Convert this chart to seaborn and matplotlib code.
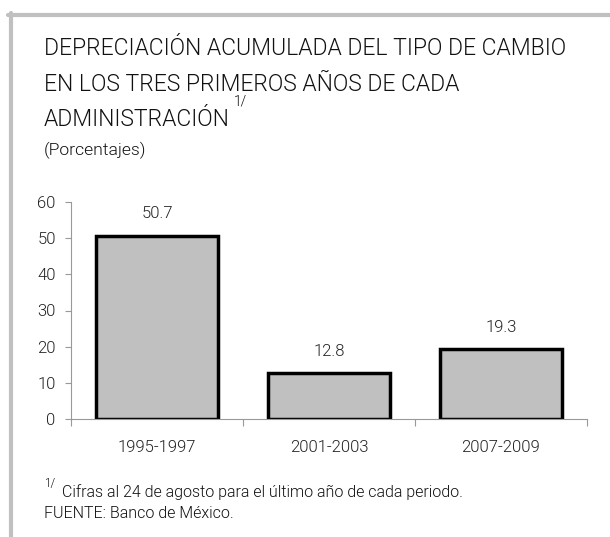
import matplotlib
matplotlib.use("Agg")
import matplotlib.pyplot as plt
import seaborn as sns
import pandas as pd
from matplotlib.lines import Line2D

# data
periods = ["1995-1997", "2001-2003", "2007-2009"]
values = [50.7, 12.8, 19.3]
y_ticks = [0, 10, 20, 30, 40, 50, 60]

df = pd.DataFrame({"Periodo": periods, "Valor": values})

sns.set_style("white")
plt.rcParams["font.family"] = ["Roboto", "DejaVu Sans"]
plt.rcParams["font.weight"] = 300

fig = plt.figure(figsize=(6.1, 5.37), dpi=100)
ax = fig.add_axes([71 / 610, 1 - 419 / 537, 516 / 610, 217 / 537])

sns.barplot(data=df, x="Periodo", y="Valor", ax=ax, color="#c0c0c0",
            saturation=1, width=0.715, edgecolor="black", linewidth=2.5)

# value labels
for i, v in enumerate(values):
    ax.text(i, v + 6, f"{v:.1f}", ha="center", va="center", fontsize=12,
            color="#222222", fontweight=300)

ax.set_xlim(-0.5, 2.5)
ax.set_ylim(0, 60)
ax.set_yticks(y_ticks)
ax.set_xlabel("")
ax.set_ylabel("")
ax.set_xticks([-0.5, 0.5, 1.5, 2.5], minor=True)
ax.tick_params(axis="x", which="major", length=0, pad=15, labelsize=12,
               labelcolor="#222222")
ax.tick_params(axis="x", which="minor", length=5, direction="out",
               color="#999999", width=0.8, bottom=True)
ax.tick_params(axis="y", length=4, direction="out", color="#999999",
               width=0.8, labelsize=12, labelcolor="#222222", left=True, pad=7)
for lbl in ax.get_xticklabels() + ax.get_yticklabels():
    lbl.set_fontweight(300)
for s in ["top", "right"]:
    ax.spines[s].set_visible(False)
for s in ["left", "bottom"]:
    ax.spines[s].set_color("#999999")
    ax.spines[s].set_linewidth(0.8)

# frame lines
fig.add_artist(Line2D([8 / 610, 1], [1 - 15 / 537, 1 - 15 / 537],
                      color="#c0c0c0", linewidth=3, transform=fig.transFigure))
fig.add_artist(Line2D([11 / 610, 11 / 610], [1 - 13 / 537, 0],
                      color="#c0c0c0", linewidth=3, transform=fig.transFigure))

# titles
tx = 44 / 610
tcol = "#111111"
tkw = dict(va="center", color=tcol, fontweight=300)
fig.text(tx, 1 - 48 / 537, "DEPRECIACIÓN ACUMULADA DEL TIPO DE CAMBIO",
         fontsize=16.5, **tkw)
fig.text(tx, 1 - 84 / 537, "EN LOS TRES PRIMEROS AÑOS DE CADA",
         fontsize=16.5, **tkw)
fig.text(tx, 1 - 119 / 537, "ADMINISTRACIÓN", fontsize=16.5, **tkw)
fig.text(234 / 610, 1 - 102 / 537, "1/", fontsize=10, **tkw)
fig.text(tx, 1 - 150 / 537, "(Porcentajes)", fontsize=12.6, **tkw)

# footnotes
fig.text(tx, 1 - 484 / 537, "1/", fontsize=8.5, **tkw)
fig.text(62 / 610, 1 - 492 / 537,
         "Cifras al 24 de agosto para el último año de cada periodo.",
         fontsize=11.5, **tkw)
fig.text(tx, 1 - 513 / 537, "FUENTE: Banco de México.",
         fontsize=11.5, **tkw)

fig.savefig("out.png", dpi=100)
